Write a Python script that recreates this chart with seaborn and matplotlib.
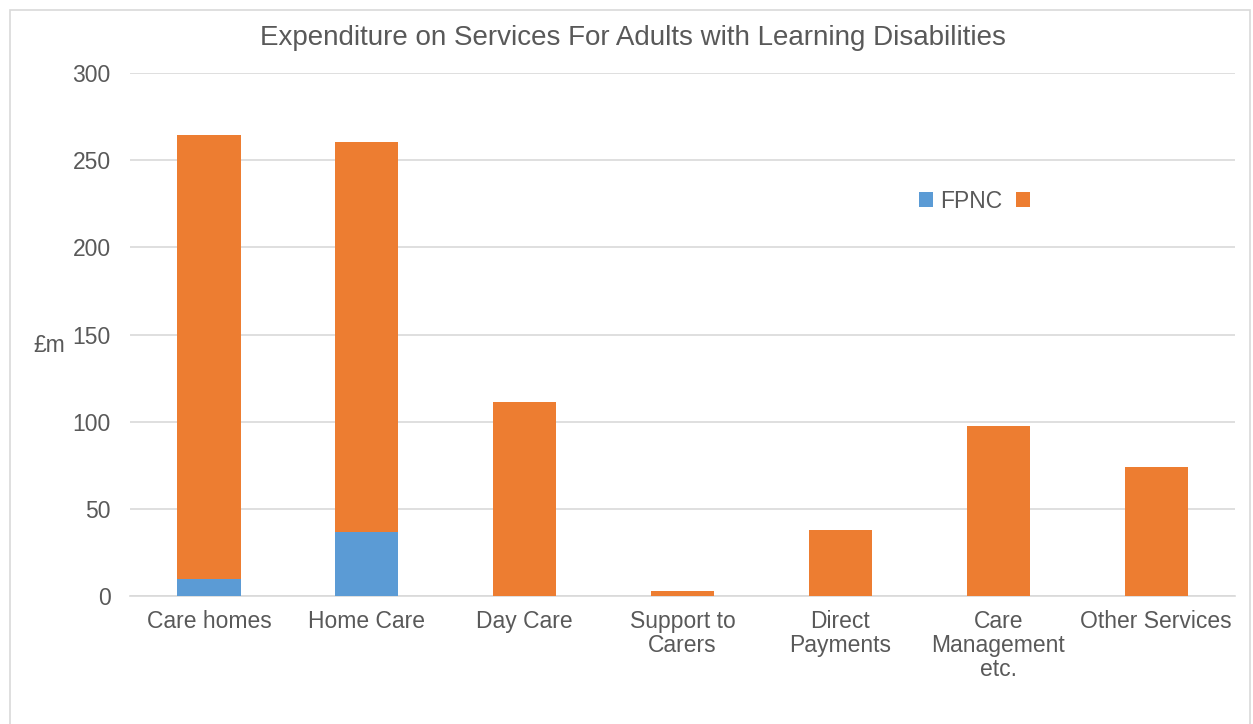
import matplotlib
matplotlib.use("Agg")
import matplotlib.pyplot as plt
from matplotlib.patches import Patch, Rectangle
import seaborn as sns
import pandas as pd

# Spending by service type, £m
categories = ["Care homes", "Home Care", "Day Care", "Support to\nCarers",
              "Direct\nPayments", "Care\nManagement\netc.", "Other Services"]
fpnc = [10, 36.5, 0, 0, 0, 0, 0]
other = [254.5, 224, 111.3, 2.9, 37.9, 97.5, 74]
y_ticks = [0, 50, 100, 150, 200, 250, 300]

BLUE = "#5B9BD5"
ORANGE = "#ED7D31"
TEXT = "#595959"
GRID = "#D9D9D9"
FS = 16.5

df = pd.DataFrame({"category": categories, "fpnc": fpnc, "other": other})
df["total"] = df["fpnc"] + df["other"]

sns.set_theme(style="white")
plt.rcParams["font.family"] = ["Liberation Sans", "DejaVu Sans"]

fig = plt.figure(figsize=(12.53, 7.24), dpi=100)
W, H = 1253, 724
ax = fig.add_axes([130 / W, 1 - 596 / H, 1105 / W, 523 / H])

# Stacked bars: full height in orange, FPNC portion laid over the base
sns.barplot(data=df, x="category", y="total", color=ORANGE, width=0.4,
            saturation=1, ax=ax, zorder=3, linewidth=0, edgecolor="none")
sns.barplot(data=df, x="category", y="fpnc", color=BLUE, width=0.4,
            saturation=1, ax=ax, zorder=4, linewidth=0, edgecolor="none")

ax.set_ylim(0, 300)
ax.set_yticks(y_ticks)
ax.set_xlim(-0.5, len(categories) - 0.5)
ax.yaxis.grid(True, color=GRID, linewidth=1.2, zorder=0)
ax.set_axisbelow(True)
for s in ["top", "right", "left"]:
    ax.spines[s].set_visible(False)
ax.spines["bottom"].set_color(GRID)
ax.spines["bottom"].set_linewidth(1.2)

ax.tick_params(axis="both", length=0, colors=TEXT, labelsize=FS)
ax.tick_params(axis="y", pad=14)
ax.tick_params(axis="x", pad=10)
for lbl in ax.get_xticklabels():
    lbl.set_linespacing(1.05)

ax.set_xlabel("")
ax.set_ylabel("£m", rotation=0, color=TEXT, fontsize=FS, labelpad=0, va="center")
ax.yaxis.set_label_coords(-81 / 1105, (596 - 346) / 523)

fig.text(633 / W, 1 - 38 / H, "Expenditure on Services For Adults with Learning Disabilities",
         ha="center", va="center", fontsize=20, color=TEXT)

handles = [Patch(facecolor=BLUE, edgecolor="none"),
           Patch(facecolor=ORANGE, edgecolor="none")]
ax.legend(handles, ["FPNC", ""], ncol=2, frameon=False, fontsize=FS,
          labelcolor=TEXT, loc="center", bbox_to_anchor=((978 - 130) / 1105, (596 - 201) / 523),
          handlelength=0.6, handleheight=0.6, handletextpad=0.3, columnspacing=0.6)

# Light chart-area border
fig.patches.append(Rectangle((10 / W, -0.01), 1240 / W, 1 - 10 / H + 0.01,
                             transform=fig.transFigure, fill=False,
                             edgecolor=GRID, linewidth=1.2))

fig.savefig("out.png", dpi=100, facecolor="white")
